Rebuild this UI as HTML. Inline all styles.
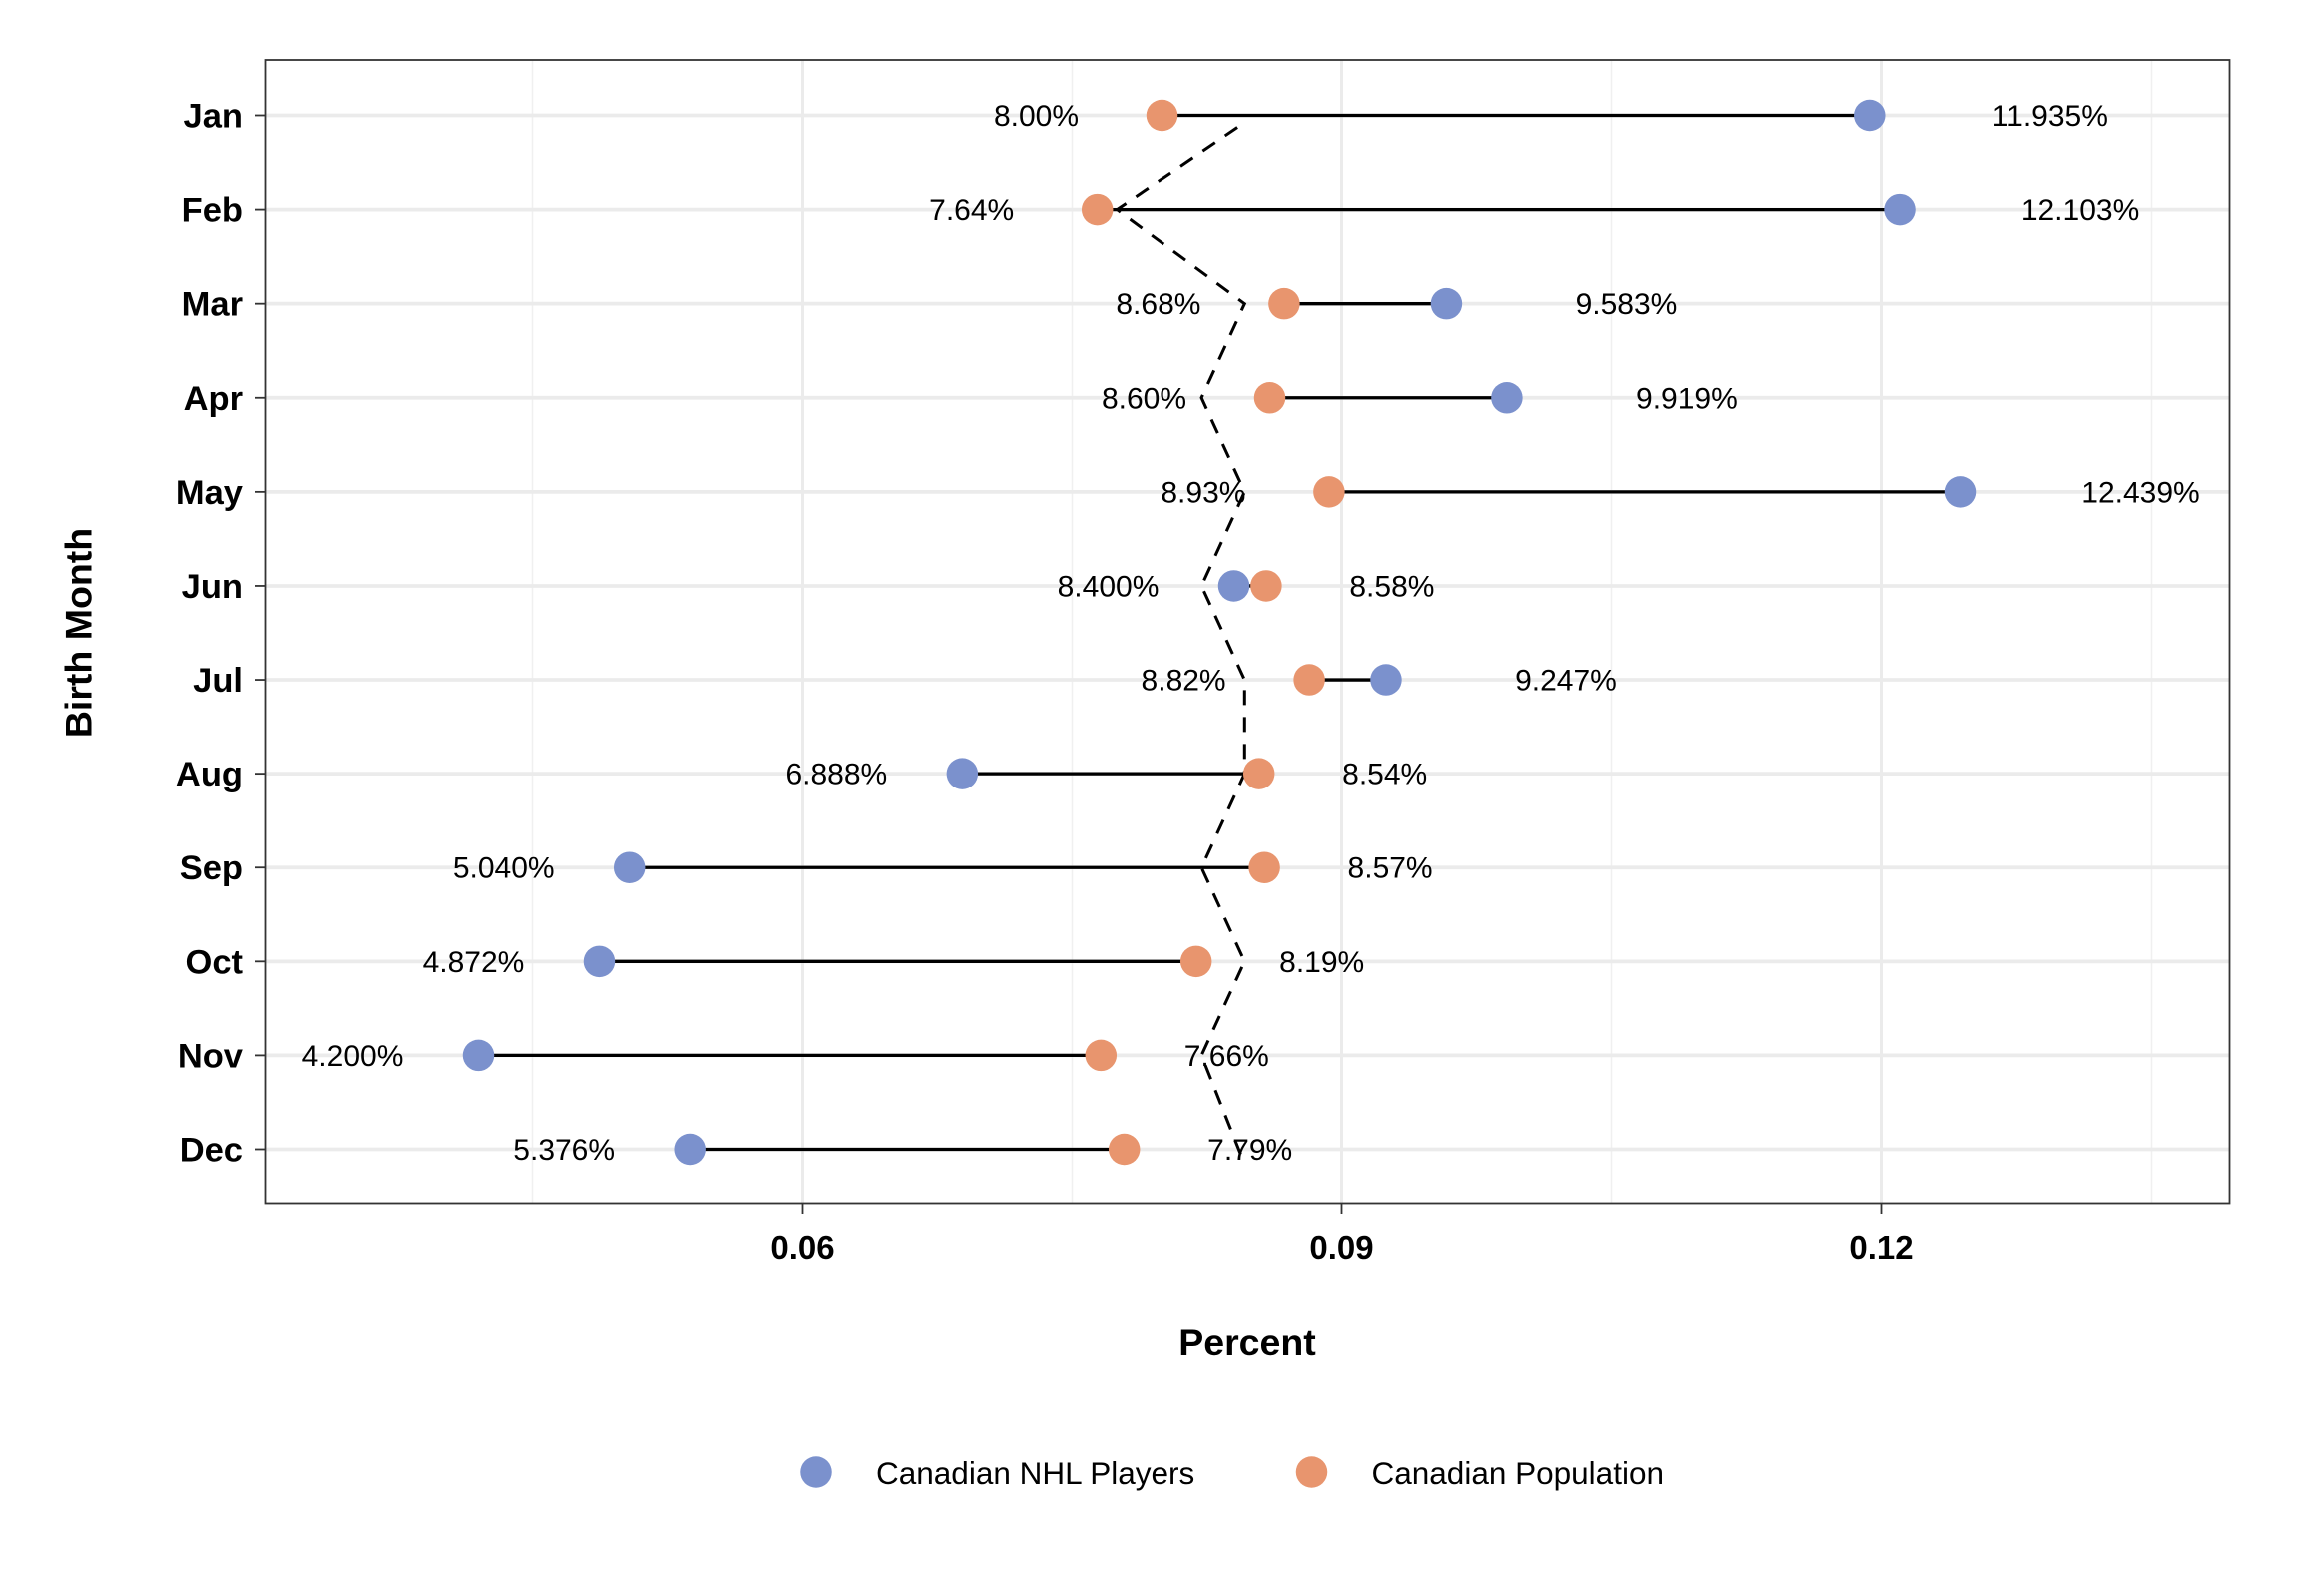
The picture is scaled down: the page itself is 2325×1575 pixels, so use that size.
<!DOCTYPE html>
<html><head><meta charset="utf-8"><style>
html,body{margin:0;padding:0;background:#fff;}
svg{display:block;font-family:"Liberation Sans",Arial,sans-serif;}
</style></head><body>
<svg id="chart" width="2325" height="1575" viewBox="0 0 1550 1050" xmlns="http://www.w3.org/2000/svg">
<rect x="0" y="0" width="1550" height="1050" fill="#fff"/>
<g id="grid"></g>
<g id="dash"></g>
<g id="marks"></g>
<g id="labels"></g>
<rect x="177" y="40" width="1310" height="763" fill="none" stroke="#333" stroke-width="1.2"/>
<g id="axes"></g>
<text x="832" y="904" text-anchor="middle" font-size="25" font-weight="bold">Percent</text>
<text transform="translate(61,422) rotate(-90)" text-anchor="middle" font-size="25" font-weight="bold">Birth Month</text>
<g>
<g><circle cx="544" cy="982" r="10.5" fill="#7B91CD"/><text x="584" y="990" font-size="21">Canadian NHL Players</text></g>
<g><circle cx="875" cy="982" r="10.5" fill="#E8956E"/><text x="915" y="990" font-size="21">Canadian Population</text></g>
</g>
</svg>
<script>
const months = ["Jan","Feb","Mar","Apr","May","Jun","Jul","Aug","Sep","Oct","Nov","Dec"];
const nhl = [11.935,12.103,9.583,9.919,12.439,8.400,9.247,6.888,5.040,4.872,4.200,5.376];
const pop = [8.00,7.64,8.68,8.60,8.93,8.58,8.82,8.54,8.57,8.19,7.66,7.79];
const nhlLabels = ["11.935%","12.103%","9.583%","9.919%","12.439%","8.400%","9.247%","6.888%","5.040%","4.872%","4.200%","5.376%"];
const popLabels = ["8.00%","7.64%","8.68%","8.60%","8.93%","8.58%","8.82%","8.54%","8.57%","8.19%","7.66%","7.79%"];
const dashVals = [0.0842,0.0775,0.0846,0.0822,0.0846,0.0822,0.0846,0.0846,0.0822,0.0846,0.0822,0.0846];
const xTicks = [0.06,0.09,0.12];
const xTickLabels = ["0.06","0.09","0.12"];
const xMinor = [0.045,0.075,0.105,0.135];

const NS="http://www.w3.org/2000/svg";
const x = v => 535 + (v-0.06)*12000;
const y = i => 77 + i*(767-77)/11;
function mk(tag, attrs, parent){const e=document.createElementNS(NS,tag);for(const k in attrs)e.setAttribute(k,attrs[k]);document.getElementById(parent).appendChild(e);return e;}

xMinor.forEach(v=>{const l=mk('line',{x1:x(v),x2:x(v),y1:40,y2:803,stroke:'#f0f0f0','stroke-width':1},'grid');

});
xTicks.forEach((v,i)=>{const l=mk('line',{x1:x(v),x2:x(v),y1:40,y2:803,stroke:'#ebebeb','stroke-width':2},'grid');


const t=mk('line',{x1:x(v),x2:x(v),y1:803,y2:810,stroke:'#333','stroke-width':1.2},'axes');


const tx=mk('text',{x:x(v),y:840,'text-anchor':'middle','font-size':22,'font-weight':'bold'},'axes');tx.textContent=xTickLabels[i];

});
months.forEach((m,i)=>{const l=mk('line',{x1:177,x2:1487,y1:y(i),y2:y(i),stroke:'#ebebeb','stroke-width':2.5},'grid');


const t=mk('line',{x1:170,x2:177,y1:y(i),y2:y(i),stroke:'#333','stroke-width':1.2},'axes');


const tx=mk('text',{x:162,y:y(i)+8,'text-anchor':'end','font-size':23,'font-weight':'bold'},'axes');tx.textContent=m;

});

let pts=dashVals.map((v,i)=>x(v)+','+(y(i)+(i===0?8:0)+(i===11?10:0))).join(' ');
const dl=mk('polyline',{points:pts,fill:'none',stroke:'#000','stroke-width':2,'stroke-dasharray':'10,8'},'dash');



months.forEach((m,i)=>{
 const a=nhl[i]/100,b=pop[i]/100;
 const seg=mk('line',{x1:x(a),x2:x(b),y1:y(i),y2:y(i),stroke:'#000','stroke-width':2.2},'marks');
 
 
 const cp=mk('circle',{cx:x(b),cy:y(i),r:10.5,fill:'#E8956E'},'marks');
 
 
 const cn=mk('circle',{cx:x(a),cy:y(i),r:10.5,fill:'#7B91CD'},'marks');
 
 
 const nRight=a>b;
 const tn=mk('text',{x:x(a)+(nRight?120:-84),y:y(i)+7,'text-anchor':'middle','font-size':20},'labels');tn.textContent=nhlLabels[i];
 
 
 const tp=mk('text',{x:x(b)+(nRight?-84:84),y:y(i)+7,'text-anchor':'middle','font-size':20},'labels');tp.textContent=popLabels[i];
 
 
});
</script>
</body></html>
